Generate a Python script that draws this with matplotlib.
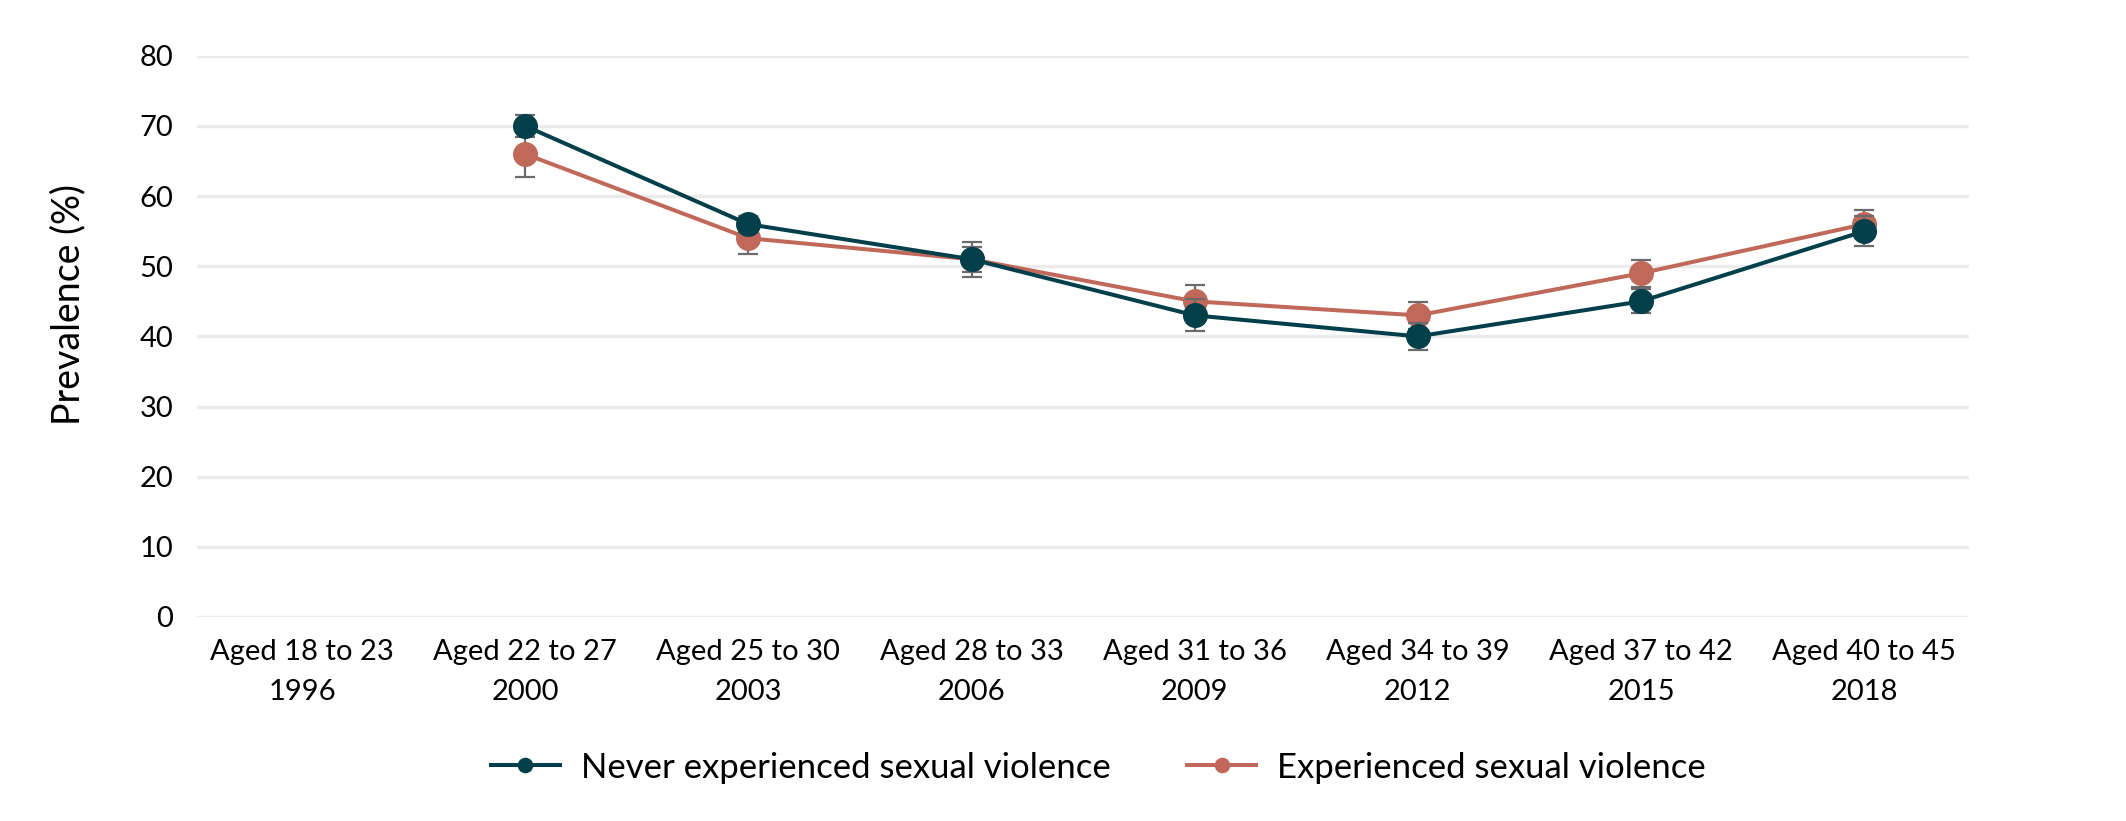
import matplotlib
matplotlib.use("Agg")
import matplotlib.pyplot as plt
import numpy as np

categories = ["Aged 18 to 23\n1996", "Aged 22 to 27\n2000", "Aged 25 to 30\n2003",
              "Aged 28 to 33\n2006", "Aged 31 to 36\n2009", "Aged 34 to 39\n2012",
              "Aged 37 to 42\n2015", "Aged 40 to 45\n2018"]
never_vals = [np.nan, 70, 56, 51, 43, 40, 45, 55]
never_err = [np.nan, 1.6, 1.2, 1.8, 2.3, 1.9, 1.7, 2.1]
exp_vals = [np.nan, 66, 54, 51, 45, 43, 49, 56]
exp_err = [np.nan, 3.3, 2.3, 2.5, 2.3, 1.9, 1.9, 2.0]
yticks = [0, 10, 20, 30, 40, 50, 60, 70, 80]

plt.rcParams['font.family'] = ['Lato', 'DejaVu Sans']

fig = plt.figure(figsize=(21.26, 8.21), dpi=100)
ax = fig.add_axes([0.0927, 0.2485, 0.8335, 0.6835])

x = np.arange(len(categories))
blue = "#013f4b"
red = "#c0695a"
errc = "#6b6b6b"

for vals, err, col, lab, z in [(exp_vals, exp_err, red, "Experienced sexual violence", 3),
                               (never_vals, never_err, blue, "Never experienced sexual violence", 4)]:
    ax.errorbar(x, vals, yerr=err, fmt='none', ecolor=errc, elinewidth=1.6,
                capsize=7.5, capthick=1.6, zorder=z, clip_on=False)
    ax.plot(x, vals, color=col, lw=2.9, marker='o', markersize=17, label=lab,
            zorder=z + 0.5, clip_on=False)

ax.set_xlim(-0.47, 7.47)
ax.set_ylim(0, 80)
ax.set_yticks(yticks)
ax.set_xticks(x)
ax.set_xticklabels(categories, fontsize=21, linespacing=1.68)
ax.tick_params(axis='y', labelsize=21, length=0, pad=17)
ax.tick_params(axis='x', length=0, pad=16)
ax.grid(axis='y', color='#ebebeb', lw=2.5, zorder=0)
ax.set_axisbelow(True)
for s in ax.spines.values():
    s.set_visible(False)
ax.set_ylabel("Prevalence (%)", fontsize=27)
ax.yaxis.set_label_coords(-0.0625, 0.556)

h, l = ax.get_legend_handles_labels()
fig.legend(h[::-1], l[::-1], loc='center', bbox_to_anchor=(0.5166, 0.065), ncol=2,
           frameon=False, fontsize=25, handlelength=2.0, columnspacing=2.2,
           handletextpad=0.6, markerscale=0.6)

fig.savefig("out.png", dpi=100, facecolor='white')
